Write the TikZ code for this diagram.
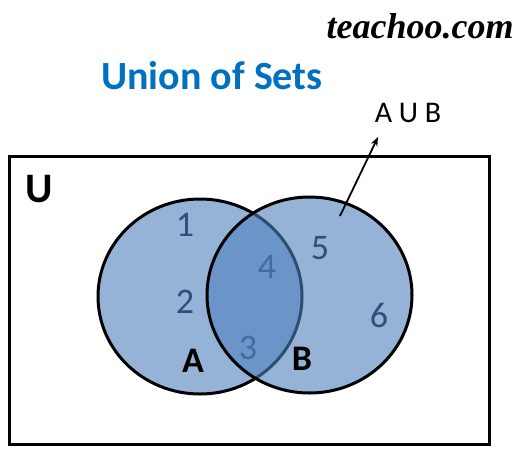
\documentclass[tikz,border=0pt]{standalone}
\usepackage{fontspec}
\setmainfont{Carlito}
\newfontfamily\brandfont{Liberation Serif}
\usetikzlibrary{arrows.meta}
\definecolor{setblue}{HTML}{4F81BD}
\definecolor{numcol}{HTML}{2F4E78}
\definecolor{titleblue}{HTML}{0070C0}
\tikzset{
  numlbl/.style={text=numcol, inner sep=0pt, font=\fontsize{36}{36}\selectfont},
  setlbl/.style={text=black, inner sep=0pt, font=\bfseries\fontsize{36}{36}\selectfont},
  setfill/.style={fill=setblue, fill opacity=0.6, draw=black, line width=3pt, draw opacity=1},
}
\begin{document}
\begin{tikzpicture}[x=1pt,y=-1pt]
\useasboundingbox (0,0) rectangle (524,458);
% brand and title
\node[font=\brandfont\bfseries\itshape\fontsize{36}{36}\selectfont, inner sep=0pt] (brand) at (420,26) {teachoo.com};
\node[text=titleblue, font=\bfseries\fontsize{40}{40}\selectfont, inner sep=0pt] (title) at (212,76) {Union of Sets};
% universe
\draw[line width=3pt] (9,156) rectangle (489,444);
\node[font=\bfseries\fontsize{42}{42}\selectfont, inner sep=0pt] (U) at (39,189) {U};
% set A
\path[setfill] (200,296.5) ellipse [x radius=102pt, y radius=97.5pt];
\node[numlbl] (n1) at (185,225) {1};
\node[numlbl] (n2) at (185,302) {2};
\node[numlbl] (n3) at (248,348) {3};
\node[numlbl] (n4) at (267,267) {4};
% set B
\path[setfill] (309.5,295) ellipse [x radius=102.5pt, y radius=98pt];
\node[numlbl] (n5) at (320,248) {5};
\node[numlbl] (n6) at (379,315) {6};
\node[setlbl] (A) at (193,361) {A};
\node[setlbl] (B) at (302,359) {B};
% arrow label
\node[font=\fontsize{30}{30}\selectfont, inner sep=0pt] (AuB) at (408,113) {A U B};
\coordinate (arrstart) at (340,216);
\coordinate (arrend) at (378,137);
\draw[line width=1.8pt, -{Stealth[length=9pt,width=7pt]}] (arrstart) -- (arrend);
\end{tikzpicture}
\end{document}
